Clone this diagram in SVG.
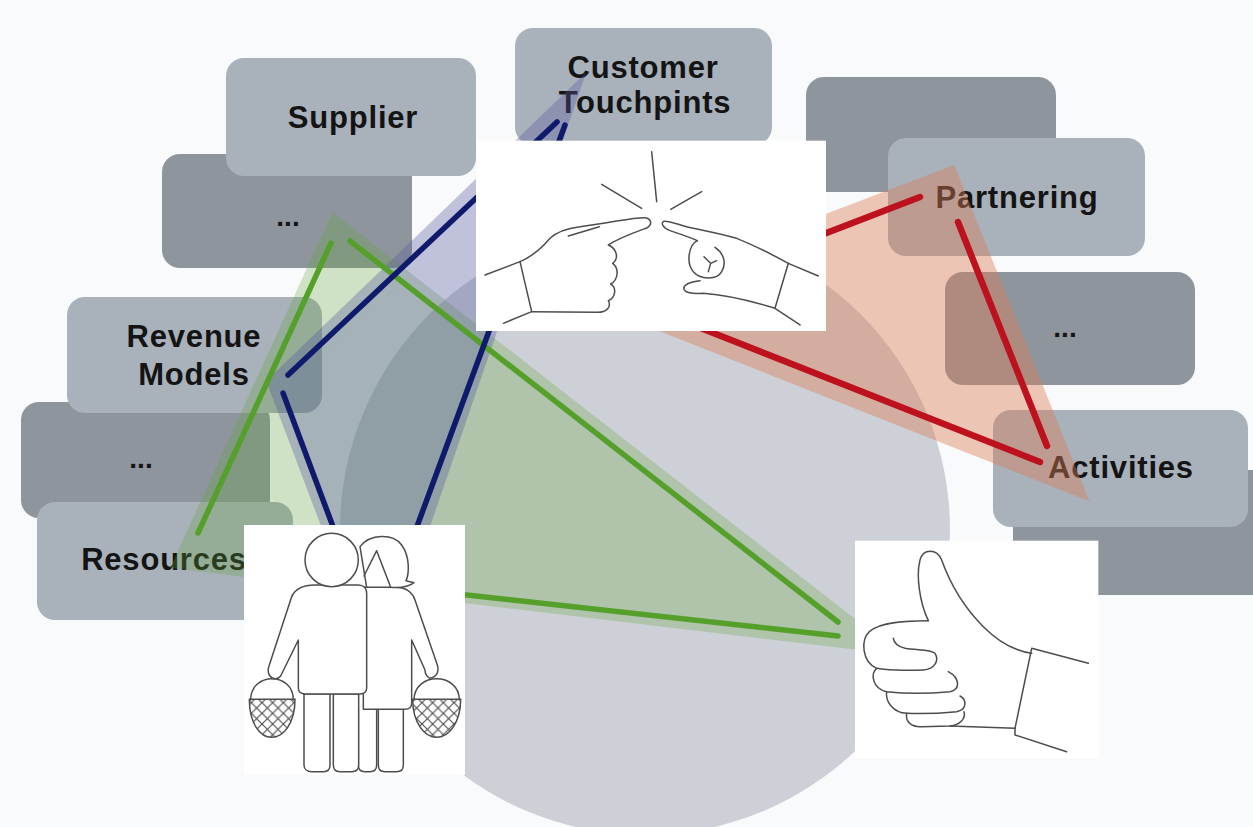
<svg xmlns="http://www.w3.org/2000/svg" width="1253" height="827" viewBox="0 0 1253 827">
  <defs>
    <style>
      .box-light { fill: #a9b1bb; }
      .box-dark { fill: #8e959d; }
      .lbl { font-family: "Liberation Sans", Arial, sans-serif; font-weight: 700; font-size: 31px; letter-spacing: 0.8px; fill: #141414; text-anchor: middle; }
      .dots { font-family: "Liberation Sans", Arial, sans-serif; font-weight: 700; font-size: 28px; fill: #141414; text-anchor: middle; }
      .ln { fill: none; stroke-width: 5.5; stroke-linecap: round; }
      .ln-green { stroke: #55a02a; }
      .ln-blue { stroke: #101a6c; }
      .ln-red { stroke: #bd121d; stroke-width: 6.5; }
      .art { fill: none; stroke: #4d4d4d; stroke-width: 4.5; stroke-linecap: round; stroke-linejoin: round; }
      .art-w { fill: #ffffff; stroke: #4d4d4d; stroke-width: 4.5; stroke-linejoin: round; }
      .pic { fill: #ffffff; }
    </style>
    <pattern id="hatch" patternUnits="userSpaceOnUse" width="32" height="32">
      <path d="M0,0 L32,32 M32,0 L0,32" stroke="#4d4d4d" stroke-width="3.5" fill="none"/>
    </pattern>
  </defs>

  <!-- page background and central disc -->
  <rect width="1253" height="827" fill="#f9fafb"/>
  <circle id="disc" cx="645" cy="530" r="305" fill="#cdd1d7"/>

  <!-- left column -->
  <g id="node-more-left-top">
    <rect class="box-dark" x="162" y="154" width="250" height="114" rx="18"/>
    <text class="dots" x="288" y="226">...</text>
  </g>
  <g id="node-supplier">
    <rect class="box-light" x="226" y="58" width="250" height="118" rx="18"/>
    <text class="lbl" x="353" y="128">Supplier</text>
  </g>
  <g id="node-more-left">
    <rect class="box-dark" x="21" y="402" width="249" height="116" rx="18"/>
    <text class="dots" x="141" y="468">...</text>
  </g>
  <g id="node-revenue-models">
    <rect class="box-light" x="67" y="297" width="255" height="116" rx="18"/>
    <text class="lbl" x="194" y="347">Revenue</text>
    <text class="lbl" x="194" y="385">Models</text>
  </g>
  <g id="node-resources">
    <rect class="box-light" x="37" y="502" width="256" height="118" rx="18"/>
    <text class="lbl" x="164" y="570">Resources</text>
  </g>

  <!-- top -->
  <g id="node-customer-touchpoints">
    <rect class="box-light" x="515" y="28" width="257" height="117" rx="18"/>
    <text class="lbl" x="643" y="78">Customer</text>
    <text class="lbl" x="645" y="113">Touchpints</text>
  </g>

  <!-- right column -->
  <g id="node-blank-right-top">
    <rect class="box-dark" x="806" y="77" width="250" height="115" rx="18"/>
  </g>
  <g id="node-partnering">
    <rect class="box-light" x="888" y="138" width="257" height="118" rx="18"/>
    <text class="lbl" x="1017" y="208">Partnering</text>
  </g>
  <g id="node-more-right">
    <rect class="box-dark" x="945" y="272" width="250" height="113" rx="18"/>
    <text class="dots" x="1065" y="337">...</text>
  </g>
  <g id="node-blank-right-bottom">
    <rect class="box-dark" x="1013" y="470" width="262" height="125" rx="18"/>
  </g>
  <g id="node-activities">
    <rect class="box-light" x="993" y="410" width="255" height="117" rx="18"/>
    <text class="lbl" x="1121" y="478">Activities</text>
  </g>

  <!-- relationship triangles and their links -->
  <g id="connectors">
    <g opacity="0.28">
      <polygon points="337,231 188,558 860,638" fill="#64a53c" stroke="#64a53c" stroke-width="24" stroke-linejoin="miter" stroke-miterlimit="10"/>
    </g>
    <g opacity="0.35">
      <polygon points="561,112 412,545 340,545 279,384" fill="#585a9e" stroke="#585a9e" stroke-width="22" stroke-linejoin="miter" stroke-miterlimit="10"/>
    </g>
    <g opacity="0.42">
      <polygon points="944,188 1057,469 640,304" fill="#dd7d56" stroke="#dd7d56" stroke-width="36" stroke-linejoin="miter" stroke-miterlimit="10"/>
    </g>

    <line class="ln ln-green" x1="331" y1="243" x2="198" y2="533"/>
    <line class="ln ln-green" x1="350" y1="241" x2="838" y2="622"/>
    <line class="ln ln-green" x1="250" y1="571" x2="838" y2="636"/>

    <line class="ln ln-blue" x1="288" y1="375" x2="557" y2="122"/>
    <line class="ln ln-blue" x1="565" y1="125" x2="412" y2="540"/>
    <line class="ln ln-blue" x1="283" y1="393" x2="338" y2="540"/>

    <line class="ln ln-red" x1="660" y1="297" x2="920" y2="197"/>
    <line class="ln ln-red" x1="958" y1="222" x2="1047" y2="446"/>
    <line class="ln ln-red" x1="660" y1="312" x2="1040" y2="462"/>
  </g>

  <!-- pictogram: two index fingers touching -->
  <g id="pic-fingers" transform="translate(460,0) scale(0.33333)">
    <rect class="pic" x="48" y="422" width="1050" height="571"/>
    <path class="art" d="M575,455 L590,605 M425,553 L545,625 M725,575 L632,628"/>
    <path class="art" d="M75,825 L180,785 L215,935 L130,970"/>
    <path class="art" d="M180,785 C215,770 245,745 270,715 C290,695 320,685 360,680 L440,668 C490,660 530,652 555,653 C575,655 578,675 560,684 C530,695 480,712 445,735 C470,745 478,775 458,790 C478,805 475,840 452,852 C470,862 468,892 445,902 C455,920 440,938 410,937 L215,935"/>
    <path class="art" d="M325,708 L418,680"/>
    <path class="art" d="M1075,828 L985,790 L945,925 L1020,975"/>
    <path class="art" d="M985,790 C930,760 880,735 830,715 C780,700 720,690 680,680 C650,672 625,662 612,664 C600,668 610,685 630,692 C660,702 690,712 712,722"/>
    <path class="art" d="M712,722 C685,735 678,790 700,815 C720,838 770,842 785,815 C800,790 792,760 765,742"/>
    <path class="art" d="M732,770 L752,790 L770,782 M752,790 L745,815"/>
    <path class="art" d="M720,842 C690,845 668,855 672,868 C678,880 700,882 730,880 C800,885 880,905 945,925"/>
  </g>

  <!-- pictogram: couple carrying baskets -->
  <g id="pic-customers" transform="translate(230,500) scale(0.33333)">
    <rect class="pic" x="42" y="75" width="663" height="750"/>
    <path class="art-w" d="M385,628 L385,795 C385,808 393,815 405,815 L420,815 C432,815 440,808 440,795 L440,628"/>
    <path class="art-w" d="M445,628 L445,795 C445,808 453,815 465,815 L500,815 C512,815 520,808 520,795 L520,628"/>
    <path class="art-w" d="M400,262 L495,262 C530,262 548,280 555,300 L622,495 C628,515 620,530 600,535 C590,530 585,520 585,510 L545,420 L545,610 C545,622 538,628 525,628 L400,628 Z"/>
    <path class="art-w" d="M390,140 C420,100 490,100 515,135 C540,170 538,220 528,242 L552,248 C535,262 505,264 480,262 L410,262 Z"/>
    <path class="art" d="M440,152 L402,228 M440,152 L482,262"/>
    <path class="art-w" d="M222,582 L222,795 C222,808 232,815 245,815 L280,815 C292,815 300,808 300,795 L300,582 Z"/>
    <path class="art-w" d="M310,582 L310,795 C310,808 318,815 330,815 L365,815 C378,815 386,808 386,795 L386,582 Z"/>
    <path class="art-w" d="M255,255 L385,255 C400,255 410,265 410,280 L410,565 C410,575 402,582 390,582 L225,582 C213,582 205,575 205,565 L205,420 L152,528 C145,538 128,540 120,528 C112,518 114,505 118,495 L185,290 C195,268 220,255 255,255 Z"/>
    <circle class="art-w" cx="305" cy="180" r="80"/>
    <path class="art" d="M62,600 C62,515 190,515 190,600"/>
    <path d="M58,598 L195,598 C195,670 160,712 125,712 C90,712 58,670 58,598 Z" fill="url(#hatch)" stroke="#4d4d4d" stroke-width="4.5"/>
    <path class="art" d="M552,600 C552,515 688,515 688,600"/>
    <path d="M548,598 L692,598 C692,670 655,712 620,712 C585,712 548,670 548,598 Z" fill="url(#hatch)" stroke="#4d4d4d" stroke-width="4.5"/>
  </g>

  <!-- pictogram: thumbs up -->
  <g id="pic-thumbs-up" transform="translate(840,520) scale(0.33333)">
    <rect class="pic" x="45" y="62" width="730" height="653"/>
    <path class="art" d="M745,430 L575,385 L525,625 L525,645 L680,695"/>
    <path class="art" d="M575,400 C520,392 470,360 430,320 C370,260 330,190 305,120 C290,85 250,85 240,120 C228,165 238,245 265,302"/>
    <path class="art" d="M265,302 C200,302 120,305 88,335 C62,360 65,425 110,445 C130,450 200,452 250,450 C285,448 298,420 285,400 C270,385 230,392 195,385 C175,380 162,368 160,355"/>
    <path class="art" d="M110,445 C92,460 95,505 140,515 C200,522 280,520 330,515 C360,510 362,475 325,455"/>
    <path class="art" d="M140,515 C135,545 160,578 200,580 C260,582 320,578 350,575 C380,570 382,540 360,528"/>
    <path class="art" d="M200,580 C195,605 215,622 245,620 L330,618 C360,615 378,595 372,575"/>
    <path class="art" d="M330,618 L525,625"/>
  </g>
</svg>
